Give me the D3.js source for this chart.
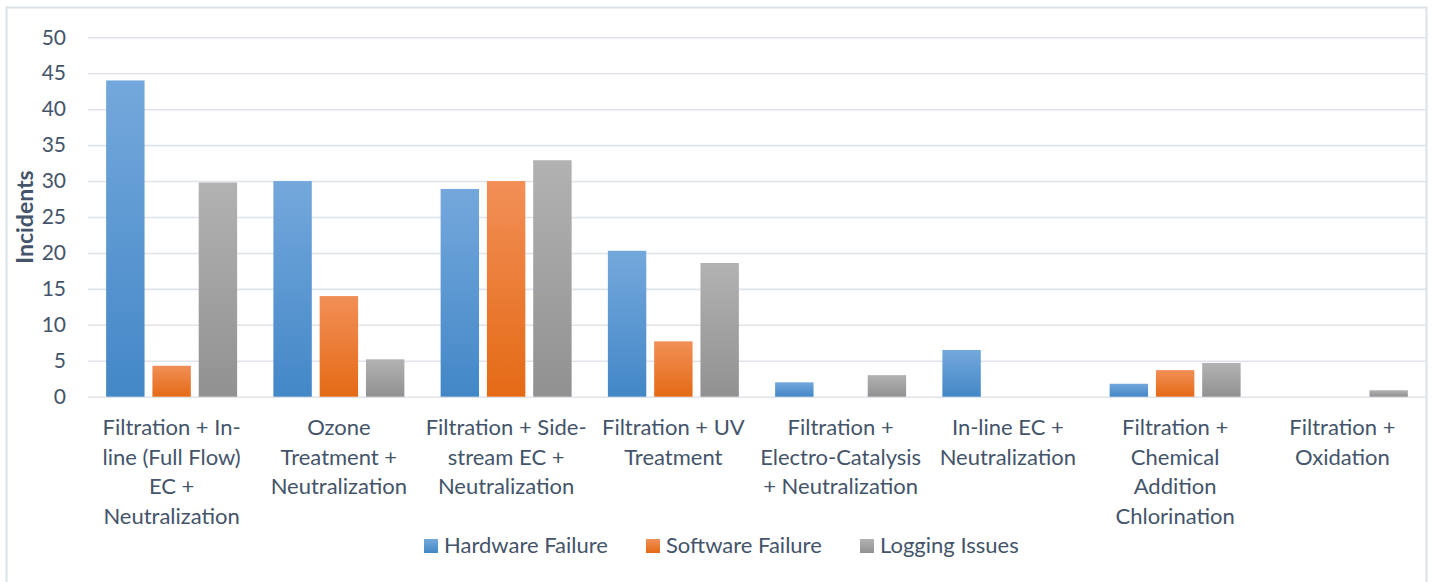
<!DOCTYPE html>
<html><head><meta charset="utf-8">
<script src="https://cdn.jsdelivr.net/npm/d3@7"></script>
<style>
html,body{margin:0;padding:0;background:#fff;}
svg{display:block;}
text{font-family:Lato, "Open Sans", sans-serif;}
</style></head>
<body><svg id="c" width="1436" height="582"></svg>
<script>
const categories = [
  ["Filtration + In-","line (Full Flow)","EC +","Neutralization"],
  ["Ozone","Treatment +","Neutralization"],
  ["Filtration + Side-","stream EC +","Neutralization"],
  ["Filtration + UV","Treatment"],
  ["Filtration +","Electro-Catalysis","+ Neutralization"],
  ["In-line EC +","Neutralization"],
  ["Filtration +","Chemical","Addition","Chlorination"],
  ["Filtration +","Oxidation"]
];
const seriesNames = ["Hardware Failure","Software Failure","Logging Issues"];
const hardware = [44.0, 30.0, 28.9, 20.3, 2.0, 6.5, 1.8, 0];
const software = [4.3, 14.0, 30.0, 7.7, 0, 0, 3.7, 0];
const logging  = [29.8, 5.2, 32.9, 18.6, 3.0, 0, 4.7, 0.9];
const yTicks = [0,5,10,15,20,25,30,35,40,45,50];
const gradients = [["#74A8DC","#4387C7"],["#F28F57","#E46A15"],["#B2B2B2","#919191"]];

const values = [hardware, software, logging];
const svg = d3.select("#c");
const defs = svg.append("defs");
gradients.forEach((g,i)=>{
  const lg = defs.append("linearGradient").attr("id","g"+i).attr("x1",0).attr("y1",0).attr("x2",0).attr("y2",1);
  lg.append("stop").attr("offset","0%").attr("stop-color",g[0]);
  lg.append("stop").attr("offset","100%").attr("stop-color",g[1]);
});

// border
svg.append("rect").attr("x",6.5).attr("y",7.5).attr("width",1420).attr("height",600)
  .attr("fill","none").attr("stroke","#DCE1E8").attr("stroke-width",2);

const pLeft=88, pRight=1426, pTop=37.3, pBottom=396.7;
const idx = d3.range(categories.length);
const x0 = d3.scaleBand().domain(idx).range([pLeft,pRight]).padding(0);
const inner = (x0.bandwidth()-131)/2;
const x1 = d3.scaleBand().domain(d3.range(3)).range([inner, x0.bandwidth()-inner]).paddingInner(0.17).paddingOuter(0);
const y = d3.scaleLinear().domain([0,50]).range([pBottom,pTop]);

// gridlines
const yAxis = d3.axisLeft(y).tickValues(yTicks).tickSize(-(pRight-pLeft)).tickPadding(22);
const ga = svg.append("g").attr("transform",`translate(${pLeft},0)`).call(yAxis);
ga.select(".domain").remove();
ga.selectAll(".tick line").attr("stroke","#DFE3EA").attr("stroke-width",1.6);
ga.selectAll(".tick text").attr("fill","#44546A").style("font-size","21px").style("font-family","Lato, sans-serif");

// bars
const groups = svg.append("g").selectAll("g").data(idx).join("g")
  .attr("transform",d=>`translate(${x0(d)},0)`);
groups.selectAll("rect").data(c=>values.map((v,s)=>({s, v:v[c]})).filter(d=>d.v>0)).join("rect")
  .attr("x",d=>x1(d.s)).attr("width",x1.bandwidth())
  .attr("y",d=>y(d.v)).attr("height",d=>y(0)-y(d.v))
  .attr("fill",d=>`url(#g${d.s})`);

// x labels
const xl = svg.append("g");
idx.forEach(i=>{
  const t = xl.append("text").attr("text-anchor","middle").attr("fill","#44546A").style("font-size","22px");
  categories[i].forEach((line,k)=>{
    t.append("tspan").attr("x",x0(i)+x0.bandwidth()/2).attr("y",435+k*29.6).text(line);
  });
});

// y title
svg.append("text").attr("transform","translate(33,217) rotate(-90)").attr("text-anchor","middle")
  .attr("fill","#44546A").style("font-size","23px").style("font-weight","bold").text("Incidents");

// legend
const legX = [424, 646, 860];
const lgG = svg.append("g");
seriesNames.forEach((n,i)=>{
  lgG.append("rect").attr("x",legX[i]).attr("y",539).attr("width",14).attr("height",14).attr("fill",`url(#g${i})`);
  lgG.append("text").attr("x",legX[i]+20).attr("y",553).attr("fill","#44546A").style("font-size","22px").text(n);
});
</script></body></html>
